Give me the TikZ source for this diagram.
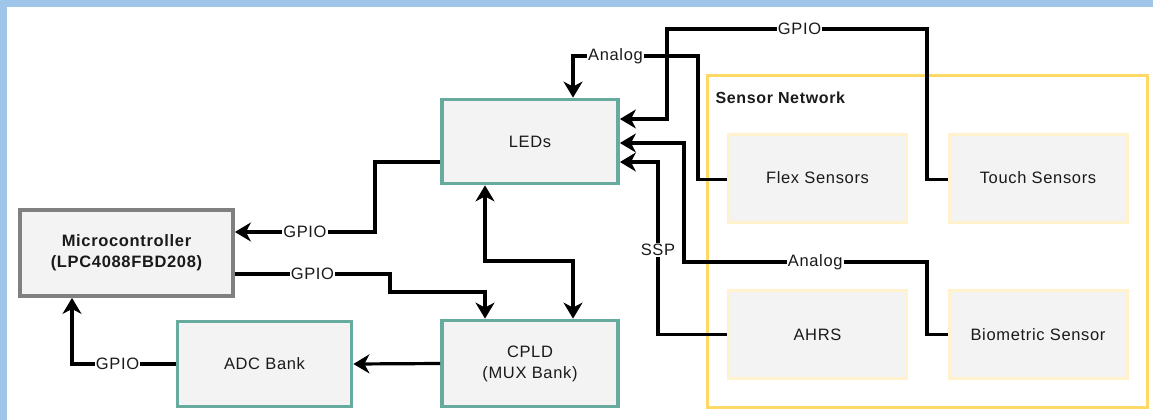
\documentclass[tikz,border=0pt]{standalone}
\usepackage{fontspec}
\setmainfont[LetterSpace=4.0]{Liberation Sans}
\usetikzlibrary{arrows.meta}
\definecolor{frameblue}{HTML}{9FC5E8}
\definecolor{tealb}{HTML}{67AB9F}
\definecolor{boxfill}{HTML}{F3F3F3}
\definecolor{grayb}{HTML}{808080}
\definecolor{snyellow}{HTML}{FFD966}
\definecolor{paleyellow}{HTML}{FFF2CC}
\definecolor{txt}{HTML}{1A1A1A}
\tikzset{
  every node/.style={font=\fontsize{16.5}{19.5}\selectfont, text=txt},
  tealbox/.style={draw=tealb, line width=3.8pt, fill=boxfill, align=center, inner sep=0pt},
  mcubox/.style={draw=grayb, line width=3.8pt, fill=boxfill, align=center, inner sep=0pt},
  sensbox/.style={draw=paleyellow, line width=3pt, fill=boxfill, align=center, inner sep=0pt,
    minimum width=178pt, minimum height=88pt},
  conn/.style={draw=black, line width=3.2pt, -{Stealth[length=16pt,width=19pt,inset=5pt]}},
  conntwo/.style={draw=black, line width=3.2pt, {Stealth[length=16pt,width=19pt,inset=5pt]}-{Stealth[length=16pt,width=19pt,inset=5pt]}},
  lbl/.style={fill=white, inner sep=1pt, text=txt}
}
\begin{document}
\begin{tikzpicture}[x=1pt,y=-1pt]
\useasboundingbox (0,0) rectangle (1153,420);
\fill[white] (0,0) rectangle (1153,420);
\fill[frameblue] (0,0) rectangle (1153,7);
\fill[frameblue] (0,0) rectangle (7,420);

% Sensor network container
\node[draw=snyellow, line width=3.2pt, minimum width=440pt, minimum height=332pt, inner sep=0pt] (sn) at (927.5,241.5) {};
\node[anchor=west, font=\fontsize{16}{19}\selectfont\bfseries] (snlabel) at (712,98) {Sensor Network};

% sensor boxes
\node[sensbox] (flex) at (817.5,178) {Flex Sensors};
\node[sensbox] (touch) at (1038,178) {Touch Sensors};
\node[sensbox] (ahrs) at (817.5,334.5) {AHRS};
\node[sensbox] (bio) at (1038,334.5) {Biometric Sensor};

% main blocks
\node[tealbox, minimum width=176pt, minimum height=84pt] (leds) at (530,141.5) {LEDs};
\node[mcubox, minimum width=213pt, minimum height=86pt, font=\fontsize{16.5}{21}\selectfont\bfseries] (mcu) at (126.5,253) {Microcontroller\\(LPC4088FBD208)};
\node[tealbox, minimum width=174pt, minimum height=85pt] (adc) at (264.5,364) {ADC Bank};
\node[tealbox, minimum width=176pt, minimum height=86pt, font=\fontsize{16.5}{21}\selectfont] (cpld) at (530,363.5) {CPLD\\(MUX Bank)};

% connectors
\draw[conn] ([yshift=-20.5pt]leds.west) -| (375,232) -- node[lbl]{GPIO} ([yshift=21pt]mcu.east);
\draw[conn] ([yshift=-21pt]mcu.east) -- node[lbl]{GPIO} (390,274) |- (485,292) -- ([xshift=-45pt]cpld.north);
\draw[conn] (adc.west) -- node[lbl,pos=0.56]{GPIO} (72,364) -- ([xshift=-54.5pt]mcu.south);
\draw[conn] (cpld.west) -- (adc.east);
\draw[conntwo] ([xshift=-45pt]leds.south) |- (573,261) -- ([xshift=43pt]cpld.north);
\draw[conn] ([yshift=-1.5pt]flex.west) -| (698,56) -- node[lbl,pos=0.66]{Analog} (573,56) -- ([xshift=43pt]leds.north);
\draw[conn] ([yshift=-1.5pt]touch.west) -| (927,29) -- node[lbl,pos=0.49]{GPIO} (667,29) |- ([yshift=22.5pt]leds.east);
\draw[conn] (bio.west) -| (927,262) -- node[lbl,pos=0.46]{Analog} (684,262) |- ([yshift=-1.5pt]leds.east);
\draw[conn] (ahrs.west) -- (658,334.5) -- node[lbl,pos=0.49]{SSP} (658,162) -- ([yshift=-20.5pt]leds.east);
\end{tikzpicture}
\end{document}
